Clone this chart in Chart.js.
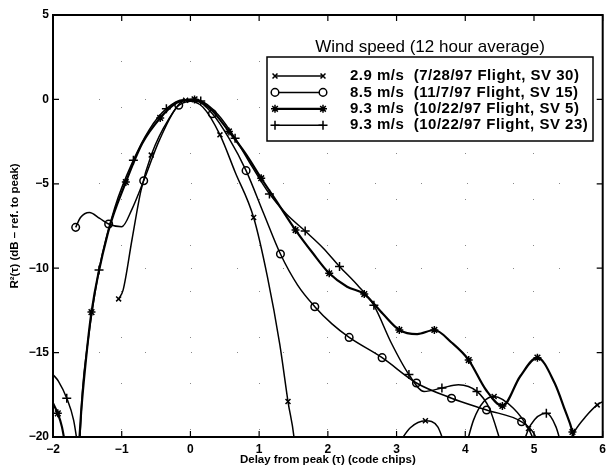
<!DOCTYPE html>
<html>
<head>
<meta charset="utf-8">
<script src="https://cdn.jsdelivr.net/npm/chart.js"></script>
<style>
  html, body { margin: 0; padding: 0; background: #fff; }
  #wrap { width: 608px; height: 467px; }
</style>
</head>
<body>
<div id="wrap"><canvas id="corrChart" width="608" height="467"></canvas></div>
<script>
// tick values
var xTicks = [-2, -1, 0, 1, 2, 3, 4, 5, 6];
var yTicks = [-20, -15, -10, -5, 0, 5];

var legendTitle = 'Wind speed (12 hour average)';
var seriesLabels = [
    '2.9 m/s  (7/28/97 Flight, SV 30)',
    '8.5 m/s  (11/7/97 Flight, SV 15)',
    '9.3 m/s  (10/22/97 Flight, SV 5)',
    '9.3 m/s  (10/22/97 Flight, SV 23)'
];

// 2.9 m/s - delay (chips) and R^2 (dB); null breaks the line below -20 dB
var tau29 = [-1.045, -0.98, -0.85, -0.72, -0.57, -0.32, -0.07, 0.18, 0.43, 0.65, 0.92, 1.12, 1.3, 1.42, 1.52, 1.56,
    2.3, 3.06, 3.2, 3.42, 3.6, 3.68,
    3.85, 4.02, 4.12, 4.27, 4.42, 4.7, 4.92, 5.02,
    5.2, 5.5, 5.6, 5.75, 5.92, 6.0];
var r29 = [-11.82, -11.3, -8.3, -5.4, -3.3, -1.2, -0.05, -0.45, -2.1, -4.3, -7.0, -10.5, -14.5, -17.9, -20.5, -23,
    null, -20.2, -19.45, -19.04, -19.4, -20.2,
    null, -20.4, -19.0, -17.9, -17.6, -18.3, -19.5, -20.4,
    null, -20.4, -19.6, -18.8, -18.1, -17.9];
var marks29 = [0, 4, 6, 8, 10, 13, 19, 26, 28, 34];

// 8.5 m/s
var tau85 = [-1.67, -1.6, -1.47, -1.32, -1.19, -1.0, -0.85, -0.68, -0.45, -0.17, 0.07, 0.32, 0.56, 0.81, 1.06, 1.31,
    1.56, 1.81, 2.06, 2.31, 2.79, 3.29, 3.8, 4.31, 4.82, 5.0, 5.08];
var r85 = [-7.58, -7.0, -6.7, -7.05, -7.38, -7.55, -6.5, -4.82, -2.4, -0.35, -0.1, -0.85, -2.3, -4.22, -6.7, -9.16,
    -11.0, -12.28, -13.3, -14.1, -15.3, -16.8, -17.7, -18.4, -19.1, -19.8, -20.6];
var marks85 = [0, 4, 7, 9, 11, 13, 15, 17, 19, 20, 21, 22, 23, 24];

// 9.3 m/s, SV 5
var tau93a = [-2.0, -1.93, -1.87, -1.82, -1.72, -1.63, -1.59, -1.53, -1.44, -1.2, -0.94, -0.7, -0.44, -0.2, 0.06, 0.3,
    0.56, 0.8, 1.03, 1.28, 1.53, 1.78, 2.02, 2.28, 2.53, 2.8, 3.04, 3.3, 3.55, 3.8, 4.05, 4.3, 4.54, 4.8, 5.05,
    5.3, 5.45, 5.56, 5.62];
var r93a = [-18.0, -18.6, -19.4, -20.5, null, -21, -18.5, -15.8, -12.6, -7.9, -4.9, -2.6, -1.1, -0.2, 0, -0.6,
    -1.9, -3.2, -4.67, -6.2, -7.74, -9.1, -10.3, -11.1, -11.53, -12.7, -13.66, -13.9, -13.66, -14.4, -15.44, -17.2,
    -18.16, -16.4, -15.3, -16.8, -18.4, -19.7, -21];
var marks93a = [1, 8, 10, 12, 14, 16, 18, 20, 22, 24, 26, 28, 30, 32, 34, 37];

// 9.3 m/s, SV 23
var tau93b = [-2.0, -1.92, -1.8, -1.7, -1.64, -1.63, -1.62, -1.57, -1.5, -1.33, -1.1, -0.83, -0.6, -0.35, -0.1, 0.15,
    0.4, 0.65, 0.9, 1.15, 1.4, 1.67, 1.93, 2.17, 2.43, 2.67, 2.92, 3.18, 3.4, 3.66, 3.9, 4.17, 4.35, 4.53,
    4.7, 4.83, 4.95, 5.18, 5.32, 5.4];
var r93b = [-16.3, -16.7, -17.7, -19.0, -20.5, null, -21, -17.2, -14.6, -10.1, -6.4, -3.6, -1.8, -0.55, -0.02, -0.1,
    -0.9, -2.3, -4.0, -5.6, -6.8, -7.8, -8.8, -9.9, -11.0, -12.2, -14.4, -16.3, -17.3, -17.1, -16.9, -17.3, -18.3, -20.5,
    null, -20.5, -19.3, -18.6, -19.4, -20.5];
var marks93b = [2, 9, 11, 13, 15, 17, 19, 21, 23, 25, 27, 29, 31, 37];

function makeSeries(label, xs, ys, marks, style, radius, width) {
    return {
        label: label,
        data: xs.map(function(x, i) { return { x: x, y: ys[i] }; }),
        borderColor: '#000',
        borderWidth: width,
        pointStyle: style,
        pointRadius: function(ctx) { return marks.indexOf(ctx.dataIndex) >= 0 ? radius : 0; },
        pointHoverRadius: 0,
        pointBorderColor: '#000',
        pointBackgroundColor: 'rgba(0,0,0,0)',
        pointBorderWidth: 1.5,
        legendRadius: radius,
        cubicInterpolationMode: 'monotone',
        spanGaps: false,
        fill: false
    };
}

// box, inward ticks and the boxed legend
var matlabBox = {
    id: 'matlabBox',
    afterDatasetsDraw: function(chart) {
        var ctx = chart.ctx, a = chart.chartArea;
        var xs = chart.scales.x, ys = chart.scales.y;
        ctx.save();
        ctx.strokeStyle = '#000';
        ctx.lineWidth = 1.2;
        ctx.beginPath();
        xs.ticks.forEach(function(t) {
            var px = xs.getPixelForValue(t.value);
            ctx.moveTo(px, a.bottom); ctx.lineTo(px, a.bottom - 6);
            ctx.moveTo(px, a.top); ctx.lineTo(px, a.top + 6);
        });
        ys.ticks.forEach(function(t) {
            var py = ys.getPixelForValue(t.value);
            ctx.moveTo(a.left, py); ctx.lineTo(a.left + 6, py);
            ctx.moveTo(a.right, py); ctx.lineTo(a.right - 6, py);
        });
        ctx.stroke();
        ctx.lineWidth = 2;
        ctx.strokeRect(a.left, a.top, a.right - a.left, a.bottom - a.top);

        // legend
        var L = { left: 267, top: 57, right: 593, bottom: 141 };
        ctx.fillStyle = '#fff';
        ctx.fillRect(L.left, L.top, L.right - L.left, L.bottom - L.top);
        ctx.lineWidth = 1.5;
        ctx.strokeRect(L.left, L.top, L.right - L.left, L.bottom - L.top);
        ctx.fillStyle = '#000';
        ctx.font = '17px "Liberation Sans", Arial, sans-serif';
        ctx.textAlign = 'center';
        ctx.textBaseline = 'middle';
        ctx.fillText(legendTitle, (L.left + L.right) / 2, 47);

        chart.data.datasets.forEach(function(ds, i) {
            var yy = 76 + i * 16.4;
            ctx.strokeStyle = '#000';
            ctx.lineWidth = ds.borderWidth;
            ctx.beginPath();
            ctx.moveTo(275, yy); ctx.lineTo(323, yy);
            ctx.stroke();
            [275, 323].forEach(function(px) {
                ctx.fillStyle = '#fff';
                ctx.strokeStyle = '#000';
                ctx.lineWidth = 1.5;
                Chart.helpers.drawPoint(ctx, {
                    pointStyle: ds.pointStyle, radius: ds.legendRadius, rotation: 0, borderWidth: 1.5
                }, px, yy);
            });
            ctx.fillStyle = '#000';
            ctx.font = 'bold 15px "Liberation Sans", Arial, sans-serif';
            ctx.letterSpacing = '0.5px';
            ctx.textAlign = 'left';
            ctx.fillText(ds.label, 350, yy);
            ctx.letterSpacing = '0px';
        });
        ctx.restore();
    }
};

document.addEventListener('DOMContentLoaded', function() {
    Chart.defaults.font.family = '"Liberation Sans", Arial, sans-serif';
    Chart.defaults.color = '#000';

    var minus = function(v) { return String(v).replace('-', '\u2212'); };

    var ctx = document.getElementById('corrChart').getContext('2d');
    var corrChart = new Chart(ctx, {
        type: 'line',
        data: {
            datasets: [
                makeSeries(seriesLabels[0], tau29, r29, marks29, 'crossRot', 3.5, 1.5),
                makeSeries(seriesLabels[1], tau85, r85, marks85, 'circle', 3.8, 1.5),
                makeSeries(seriesLabels[2], tau93a, r93a, marks93a, 'star', 4, 2.2),
                makeSeries(seriesLabels[3], tau93b, r93b, marks93b, 'cross', 4.5, 1.5)
            ]
        },
        options: {
            responsive: false,
            animation: false,
            events: [],
            layout: { padding: { top: 15, right: 4, left: 0, bottom: 0 } },
            plugins: { legend: { display: false }, tooltip: { enabled: false } },
            scales: {
                x: {
                    type: 'linear',
                    min: -2,
                    max: 6,
                    afterBuildTicks: function(s) { s.ticks = xTicks.map(function(v) { return { value: v }; }); },
                    afterFit: function(s) { s.height = 30; s.paddingLeft = 0; s.paddingRight = 0; },
                    ticks: {
                        padding: 5,
                        maxRotation: 0,
                        font: { size: 12, weight: 'bold' },
                        callback: minus
                    },
                    grid: { drawTicks: false, color: '#888', lineWidth: 1 },
                    border: { display: false, dash: [1, 45] },
                    title: {
                        display: true,
                        text: 'Delay from peak (\u03c4) (code chips)',
                        font: { size: 11.5, weight: 'bold' },
                        padding: { top: 0, bottom: 0 }
                    }
                },
                y: {
                    min: -20,
                    max: 5,
                    afterBuildTicks: function(s) { s.ticks = yTicks.map(function(v) { return { value: v }; }); },
                    afterFit: function(s) { s.width = 53; },
                    ticks: {
                        padding: 4,
                        font: { size: 12, weight: 'bold' },
                        callback: minus
                    },
                    grid: { drawTicks: false, color: '#888', lineWidth: 1 },
                    border: { display: false, dash: [1, 45] },
                    title: {
                        display: true,
                        text: 'R\u00b2(\u03c4) (dB \u2013 ref. to peak)',
                        font: { size: 11.5, weight: 'bold' },
                        padding: { top: 8, bottom: 0 }
                    }
                }
            }
        },
        plugins: [matlabBox]
    });
});
</script>
</body>
</html>
